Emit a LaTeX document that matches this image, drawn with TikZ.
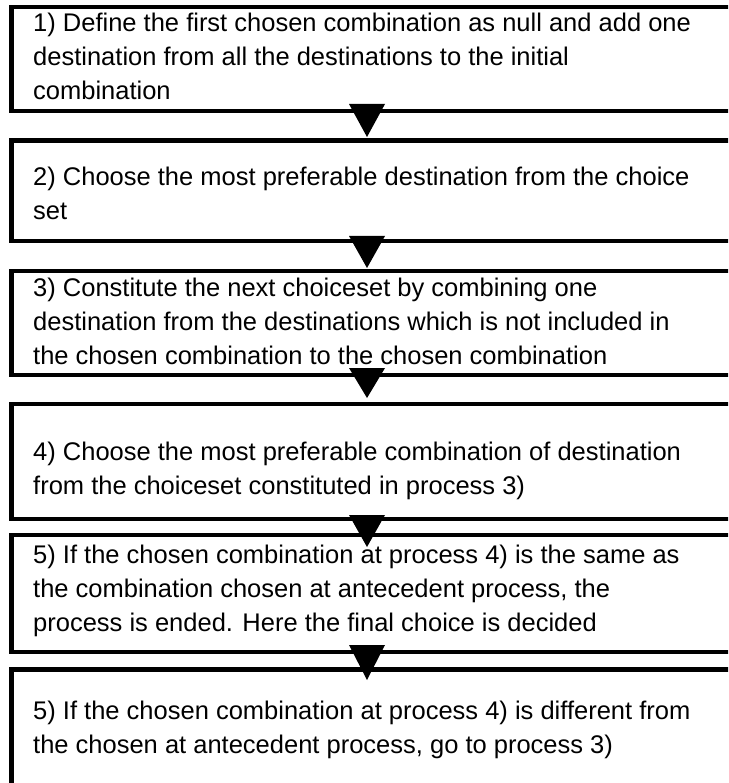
\documentclass[tikz,border=0pt]{standalone}
\usepackage{fontspec}
\setmainfont{Liberation Sans}
\begin{document}
\begin{tikzpicture}[x=1pt,y=-1pt,
  box/.style={draw=black, line width=4.5pt, fill=white, anchor=north west,
              minimum width=735pt, inner sep=0pt, outer sep=0pt},
  tri/.style={fill=black},
  txt/.style={anchor=base west, align=left, inner sep=0pt,
              font=\fontsize{25.5}{34}\selectfont}]
\useasboundingbox (0,0) rectangle (728,783);
\clip (0,0) rectangle (728,783);
\fill[white] (0,0) rectangle (728,783);
% boxes
\node[box, minimum height=104pt] (b1) at (11.5,7) {};
\node[box, minimum height=100.5pt] (b2) at (11.5,140.5) {};
\node[box, minimum height=104pt] (b3) at (11.5,271) {};
\node[box, minimum height=115pt] (b4) at (11.5,404) {};
\node[box, minimum height=117pt] (b5) at (11.5,535) {};
\node[box, minimum height=140pt] (b6) at (11.5,669.5) {};
% texts (anchor = baseline of last line)
\node[txt] (t1) at (33,100) {1) Define the first chosen combination as null and add one\\destination from all the destinations to the initial\\combination};
\node[txt] (t2) at (33,220) {2) Choose the most preferable destination from the choice\\set};
\node[txt] (t3) at (33,364) {3) Constitute the next choiceset by combining one\\destination from the destinations which is not included in\\the chosen combination to the chosen combination};
\node[txt] (t4) at (33,494) {4) Choose the most preferable combination of destination\\from the choiceset constituted in process 3)};
\node[txt] (t5) at (33,631) {5) If the chosen combination at process 4) is the same as\\the combination chosen at antecedent process, the\\process is ended. Here the final choice is decided};
\node[txt] (t6) at (33,753) {5) If the chosen combination at process 4) is different from\\the chosen at antecedent process, go to process 3)};
% connecting triangles: base centre (a) and apex (p)
\coordinate (a1) at (367,104); \coordinate (p1) at (367,137);
\coordinate (a2) at (367,236); \coordinate (p2) at (367,268);
\coordinate (a3) at (367,368); \coordinate (p3) at (367,398);
\coordinate (a4) at (367,515); \coordinate (p4) at (367,547);
\coordinate (a5) at (367,645); \coordinate (p5) at (367,680);
\foreach \i in {1,...,5}{
  \fill[tri] ([xshift=-18pt]a\i) -- ([xshift=18pt]a\i) -- (p\i) -- cycle;
}
\end{tikzpicture}
\end{document}
